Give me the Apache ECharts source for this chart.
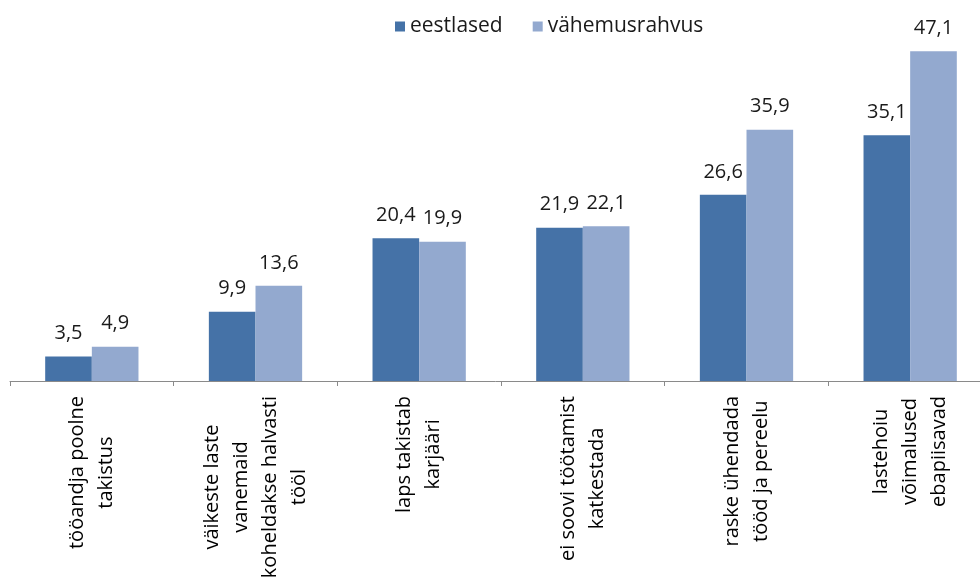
<!DOCTYPE html>
<html>
<head>
<meta charset="utf-8">
<script src="https://cdn.jsdelivr.net/npm/echarts@6/dist/echarts.min.js"></script>
<style>
  html, body { margin: 0; padding: 0; background: #fff; }
  #chart { width: 980px; height: 586px; }
</style>
</head>
<body>
<div id="chart"></div>
<script>
// Reasons given, by group (share of respondents, %)
const categories = [
  'tööandja poolne\ntakistus',
  'väikeste laste\nvanemaid\nkoheldakse halvasti\ntööl',
  'laps takistab\nkarjääri',
  'ei soovi töötamist\nkatkestada',
  'raske ühendada\ntööd ja pereelu',
  'lastehoiu\nvõimalused\nebapiisavad'
];
const seriesNames = ['eestlased', 'vähemusrahvus'];
const eestlased = [3.5, 9.9, 20.4, 21.9, 26.6, 35.1];
const vahemusrahvus = [4.9, 13.6, 19.9, 22.1, 35.9, 47.1];

const FONT = "'Open Sans', 'Liberation Sans', sans-serif";
const DARK = '#4572A7';
const LIGHT = '#93A9CF';

const fmtValue = p => String(p.value).replace('.', ',');

const chart = echarts.init(document.getElementById('chart'), null, { renderer: 'canvas' });

const valueLabel = {
  show: true,
  position: 'top',
  distance: 13,
  formatter: fmtValue,
  fontFamily: FONT,
  fontSize: 20,
  color: '#1a1a1a'
};

chart.setOption({
  animation: false,
  backgroundColor: '#fff',
  legend: {
    data: seriesNames,
    top: 11,
    left: 390,
    itemWidth: 10,
    itemHeight: 10,
    itemGap: 30,
    icon: 'rect',
    textStyle: { fontFamily: FONT, fontSize: 21, color: '#1a1a1a' }
  },
  grid: {
    left: 10,
    right: -12,
    top: 31,
    bottom: 205,
    containLabel: false,
    outerBoundsMode: 'none'
  },
  xAxis: {
    type: 'category',
    data: categories,
    axisLine: { lineStyle: { color: '#8a8a8a', width: 1 } },
    axisTick: { show: true, length: 5, lineStyle: { color: '#8a8a8a' } },
    axisLabel: {
      interval: 0,
      rotate: 90,
      margin: 15,
      formatter: v => v.split('\n').map(s => '{c|' + s + '}').join('\n'),
      rich: {
        c: {
          align: 'center',
          fontFamily: FONT,
          fontSize: 20,
          lineHeight: 29,
          color: '#000'
        }
      }
    }
  },
  yAxis: {
    type: 'value',
    min: 0,
    max: 50,
    show: false,
    splitLine: { show: false }
  },
  series: [
    {
      name: seriesNames[0],
      type: 'bar',
      data: eestlased,
      itemStyle: { color: DARK },
      barGap: '0%',
      barCategoryGap: '43%',
      label: valueLabel
    },
    {
      name: seriesNames[1],
      type: 'bar',
      data: vahemusrahvus,
      itemStyle: { color: LIGHT },
      barGap: '0%',
      barCategoryGap: '43%',
      label: valueLabel
    }
  ]
});
</script>
</body>
</html>
